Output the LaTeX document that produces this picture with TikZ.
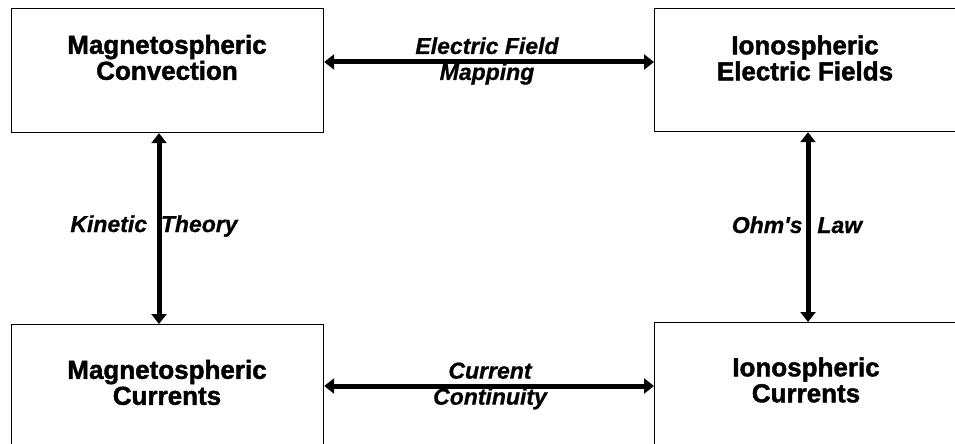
\documentclass[tikz,border=0pt]{standalone}
\usepackage{fontspec}
\setmainfont{Liberation Sans}
\newfontfamily\heavyfont[FakeBold=1.6]{Liberation Sans Bold}
\newfontfamily\heavyital[FakeBold=0.8]{Liberation Sans Bold Italic}
\usetikzlibrary{arrows.meta}
\tikzset{
  box/.style={draw=black, line width=1.2pt, rectangle, anchor=north west, inner sep=0pt, minimum width=312pt},
  boxtext/.style={align=center, inner sep=0pt, font=\fontsize{26}{26}\heavyfont},
  linklabel/.style={align=center, inner sep=0pt, font=\fontsize{23}{26}\heavyital},
  biarrow/.style={line width=5pt, {Triangle[width=15pt,length=10pt]}-{Triangle[width=15pt,length=10pt]}}
}
\begin{document}
\begin{tikzpicture}[x=1pt, y=-1pt]
\useasboundingbox (0,0) rectangle (955,444);
\clip (0,0) rectangle (955,444);
\fill[white] (0,0) rectangle (955,444);
% boxes
\node[box, minimum height=124pt] (tl) at (11,8) {};
\node[box, minimum height=123pt] (tr) at (654,8) {};
\node[box, minimum height=140pt] (bl) at (11,324) {};
\node[box, minimum height=140pt] (br) at (654,322) {};
% box texts
\node[boxtext] (tlt) at (167,57.5) {Magnetospheric\\Convection};
\node[boxtext] (trt) at (805,58) {Ionospheric\\Electric Fields};
\node[boxtext] (blt) at (167,382.5) {Magnetospheric\\Currents};
\node[boxtext] (brt) at (806,380) {Ionospheric\\Currents};
% connectors
\draw[biarrow] ([yshift=-54pt]tl.north east) -- ([yshift=-54pt]tr.north west);
\draw[biarrow] ([yshift=-62pt]bl.north east) -- ([yshift=-64pt]br.north west);
\draw[biarrow] ([xshift=148pt]tl.south west) -- ([xshift=148pt]bl.north west);
\draw[biarrow] ([xshift=154pt]tr.south west) -- ([xshift=154pt]br.north west);
% labels
\node[linklabel] (l1) at (487,61) {Electric Field\\Mapping};
\node[linklabel] (l2) at (490,386) {Current\\Continuity};
\node[linklabel, anchor=base] (l3) at (154,232) {Kinetic\hspace{0.6em}Theory};
\node[linklabel, anchor=base] (l4) at (797,233) {Ohm's\hspace{0.65em}Law};
\end{tikzpicture}
\end{document}
